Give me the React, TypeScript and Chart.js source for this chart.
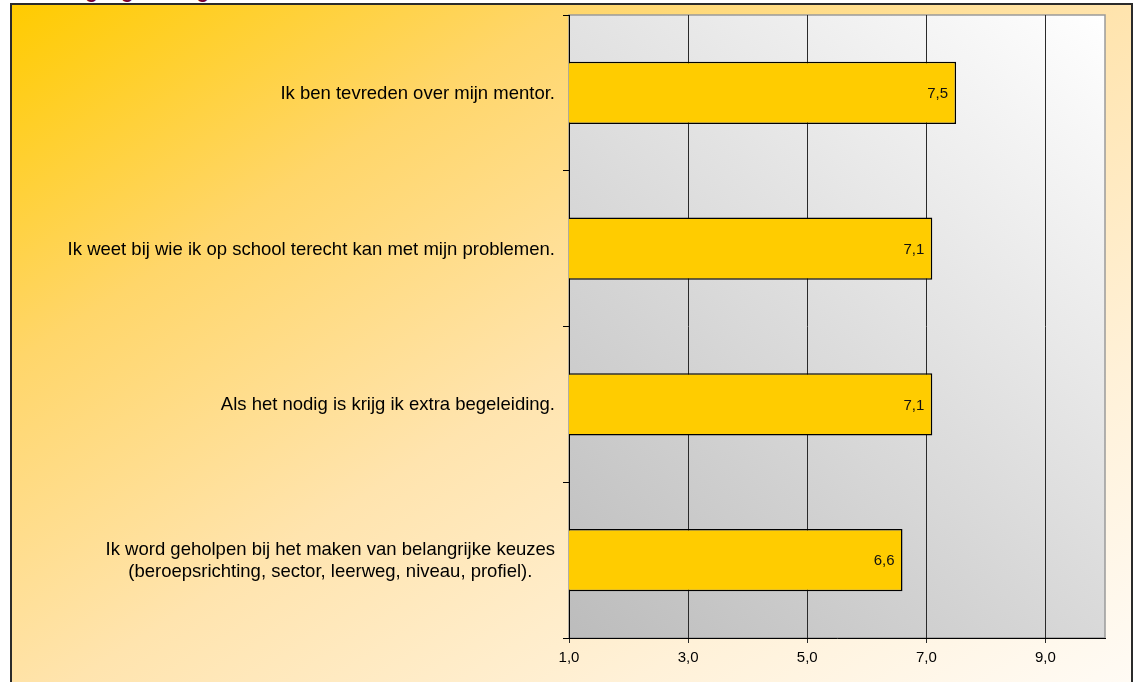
import { useEffect, useRef } from "react";
import { Chart, registerables } from "chart.js";

Chart.register(...registerables);

// data
const TITLE = "Leerlingbegeleiding";
const statements: string[][] = [
  ["Ik ben tevreden over mijn mentor."],
  ["Ik weet bij wie ik op school terecht kan met mijn problemen."],
  ["Als het nodig is krijg ik extra begeleiding."],
  [
    "Ik word geholpen bij het maken van belangrijke keuzes",
    "(beroepsrichting, sector, leerweg, niveau, profiel).",
  ],
];
const scores = [7.5, 7.1, 7.1, 6.6];
const xTicks = [1, 3, 5, 7, 9];
const X_MIN = 1;
const X_MAX = 10;

const FONT = 'Arial, "Liberation Sans", Helvetica, sans-serif';
const fmt = (v: number) => v.toFixed(1).replace(".", ",");

const plotBackground = {
  id: "plotBackground",
  beforeDraw(chart: any) {
    const { ctx, chartArea: a } = chart;
    const w = a.right - a.left;
    const h = a.bottom - a.top;
    const g = ctx.createLinearGradient(a.left, a.bottom, a.right, a.top);
    g.addColorStop(0, "#bcbcbc");
    g.addColorStop(1, "#ffffff");
    ctx.save();
    ctx.fillStyle = g;
    ctx.fillRect(a.left, a.top, w, h);
    ctx.strokeStyle = "#9a9a9a";
    ctx.lineWidth = 1.5;
    ctx.strokeRect(a.left, a.top, w, h);
    ctx.restore();
  },
};

const valueLabels = {
  id: "valueLabels",
  afterDatasetsDraw(chart: any) {
    const { ctx } = chart;
    const meta = chart.getDatasetMeta(0);
    ctx.save();
    ctx.font = `15px ${FONT}`;
    ctx.fillStyle = "#111";
    ctx.textAlign = "right";
    ctx.textBaseline = "middle";
    meta.data.forEach((bar: any, i: number) => {
      ctx.fillText(fmt(scores[i]), bar.x - 8, bar.y + 1);
    });
    ctx.restore();
  },
};

// category labels, multi-line ones centred on their widest line
const statementLabels = {
  id: "statementLabels",
  afterDraw(chart: any) {
    const { ctx, chartArea } = chart;
    const yScale = chart.scales.y;
    const right = chartArea.left - 14;
    const lh = 22;
    ctx.save();
    ctx.font = `18.5px ${FONT}`;
    ctx.fillStyle = "#000";
    ctx.textAlign = "center";
    ctx.textBaseline = "middle";
    statements.forEach((lines, i) => {
      const y = yScale.getPixelForValue(i);
      const maxW = Math.max(...lines.map((l) => ctx.measureText(l).width));
      const cx = right - maxW / 2;
      const y0 = y - ((lines.length - 1) * lh) / 2;
      lines.forEach((l, j) => ctx.fillText(l, cx, y0 + j * lh + 1));
    });
    ctx.restore();
  },
};

export default function App() {
  const ref = useRef<HTMLCanvasElement>(null);
  const chartRef = useRef<Chart | null>(null);

  useEffect(() => {
    if (!ref.current) return;
    chartRef.current?.destroy();
    chartRef.current = new Chart(ref.current, {
      type: "bar",
      data: {
        labels: statements.map((s) => s.join(" ")),
        datasets: [
          {
            data: scores,
            backgroundColor: "#ffcc00",
            borderColor: "#000",
            borderWidth: 1.5,
            borderSkipped: false,
            barPercentage: 0.4,
            categoryPercentage: 1,
          },
        ],
      },
      options: {
        indexAxis: "y",
        responsive: false,
        animation: false,
        layout: { padding: { top: 15, right: 31, left: 0, bottom: 0 } },
        plugins: { legend: { display: false }, tooltip: { enabled: false } },
        scales: {
          x: {
            type: "linear",
            min: X_MIN,
            max: X_MAX,
            afterBuildTicks: (s: any) => {
              s.ticks = xTicks.map((v) => ({ value: v }));
            },
            afterFit: (s: any) => {
              s.height = 44;
            },
            ticks: {
              callback: (v: any) => fmt(Number(v)),
              color: "#000",
              font: { family: FONT, size: 15 },
              padding: 6,
              maxRotation: 0,
              autoSkip: false,
            },
            grid: { color: "#2a2a2a", lineWidth: 1, tickLength: 5 },
            border: { display: true, color: "#000", width: 1 },
          },
          y: {
            afterFit: (s: any) => {
              s.width = 569;
            },
            ticks: { display: false },
            grid: {
              drawOnChartArea: false,
              drawTicks: true,
              tickLength: 6,
              color: "#000",
              offset: true,
            },
            border: { display: true, color: "#000", width: 1 },
          },
        },
      },
      plugins: [plotBackground, valueLabels, statementLabels],
    });
    return () => chartRef.current?.destroy();
  }, []);

  return (
    <div
      style={{
        position: "fixed",
        left: 0,
        top: 0,
        width: 1136,
        height: 682,
        overflow: "hidden",
        background: "#fff",
        fontFamily: FONT,
      }}
    >
      <div
        style={{
          position: "absolute",
          left: 20,
          top: -19,
          fontSize: 20,
          lineHeight: "20px",
          fontWeight: "bold",
          color: "#7a0035",
          whiteSpace: "nowrap",
        }}
      >
        {TITLE}
      </div>
      <div
        style={{
          position: "absolute",
          left: 10,
          top: 3,
          width: 1123,
          height: 720,
          boxSizing: "border-box",
          border: "2px solid #2b2b2b",
          background:
            "linear-gradient(to bottom right, #ffcb00 0%, #ffd66a 25%, #ffe4ae 50%, #fff1d8 75%, #fffcf8 100%)",
        }}
      />
      <canvas
        ref={ref}
        width={1136}
        height={682}
        style={{ position: "absolute", left: 0, top: 0 }}
      />
    </div>
  );
}
